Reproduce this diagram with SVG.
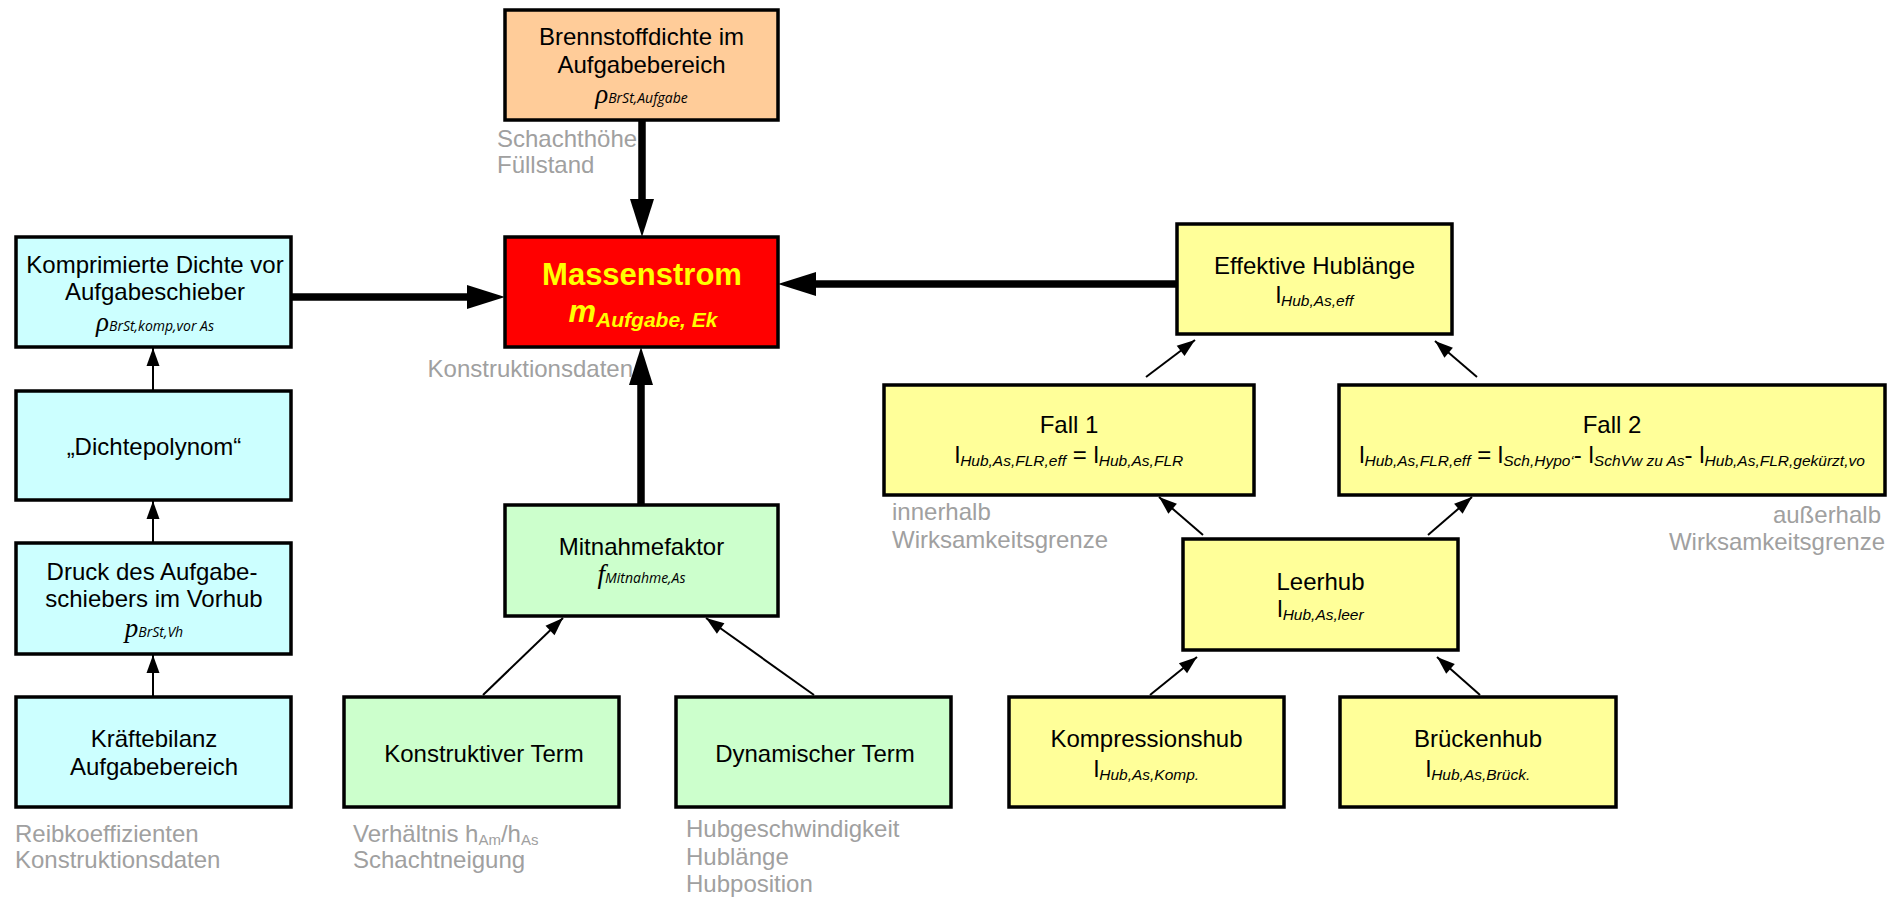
<svg xmlns="http://www.w3.org/2000/svg" width="1902" height="898" viewBox="0 0 1902 898">
<style>
.box{stroke:#000;stroke-width:3.5}
.cy{fill:#ccffff}.or{fill:#ffcc99}.rd{fill:#ff0000}.gr{fill:#ccffcc}.ye{fill:#ffff99}
text{font-family:"Liberation Sans",Arial,sans-serif;font-size:24px;fill:#000}
.c{text-anchor:middle}
.e{text-anchor:end}
.g{fill:#a0a0a0}
.sub{font-style:italic;font-size:15.5px}
.gs{font-size:15px}
.cal{font-family:"Open Sans",sans-serif;font-style:italic;font-size:14px}
.rho{font-family:"Liberation Serif",serif;font-style:italic;font-size:27px}
.thick{stroke:#000;stroke-width:7.5;fill:none;marker-end:url(#big)}
.thin{stroke:#000;stroke-width:2;fill:none;marker-end:url(#small)}
</style>
<defs>
<marker id="big" markerUnits="userSpaceOnUse" markerWidth="38" markerHeight="24" refX="0" refY="12" orient="auto" overflow="visible"><path d="M0,0 L38,12 L0,24 z" fill="#000"/></marker>
<marker id="small" markerUnits="userSpaceOnUse" markerWidth="18" markerHeight="13" refX="18" refY="6.5" orient="auto" overflow="visible"><path d="M0,0 L18,6.5 L0,13 z" fill="#000"/></marker>
</defs>
<rect width="1902" height="898" fill="#fff"/>

<g id="connectors">
<line class="thick" x1="642" y1="121" x2="642" y2="199"/>
<line class="thick" x1="291" y1="297" x2="467" y2="297"/>
<line class="thick" x1="1177" y1="284" x2="816" y2="284"/>
<line class="thick" x1="641" y1="505" x2="641" y2="385"/>
<line class="thin" x1="153" y1="391" x2="153" y2="348"/>
<line class="thin" x1="153" y1="543" x2="153" y2="501"/>
<line class="thin" x1="153" y1="697" x2="153" y2="655"/>
<line class="thin" x1="483" y1="695" x2="563" y2="618"/>
<line class="thin" x1="814" y1="695" x2="706" y2="618"/>
<line class="thin" x1="1146" y1="377" x2="1195" y2="340"/>
<line class="thin" x1="1477" y1="377" x2="1435" y2="341"/>
<line class="thin" x1="1203" y1="535" x2="1159" y2="497"/>
<line class="thin" x1="1428" y1="535" x2="1472" y2="497"/>
<line class="thin" x1="1150" y1="695" x2="1197" y2="657"/>
<line class="thin" x1="1480" y1="695" x2="1437" y2="657"/>
</g>

<g id="brennstoff">
<rect class="box or" x="505" y="10" width="273" height="110"/>
<text class="c" x="641.5" y="45">Brennstoffdichte im</text>
<text class="c" x="641.5" y="73">Aufgabebereich</text>
<text class="c" x="641.5" y="103"><tspan class="rho">ρ</tspan><tspan class="cal">BrSt,Aufgabe</tspan></text>
<text class="g" x="497" y="147">Schachthöhe</text>
<text class="g" x="497" y="173">Füllstand</text>
</g>

<g id="massenstrom">
<rect class="box rd" x="505" y="237" width="273" height="110"/>
<text class="c" x="642" y="285" style="font-weight:bold;font-size:31px;fill:#ffff00">Massenstrom</text>
<text class="c" x="643" y="322" style="font-weight:bold;font-style:italic;fill:#ffff00"><tspan style="font-size:31px">m</tspan><tspan style="font-size:21px" dy="5">Aufgabe, Ek</tspan></text>
<text class="g e" x="633" y="377">Konstruktionsdaten</text>
</g>

<g id="komprimiert">
<rect class="box cy" x="16" y="237" width="275" height="110"/>
<text class="c" x="155" y="273">Komprimierte Dichte vor</text>
<text class="c" x="155" y="300">Aufgabeschieber</text>
<text class="c" x="155" y="331"><tspan class="rho">ρ</tspan><tspan class="cal">BrSt,komp,vor As</tspan></text>
</g>

<g id="dichtepolynom">
<rect class="box cy" x="16" y="391" width="275" height="109"/>
<text class="c" x="154" y="455">„Dichtepolynom“</text>
</g>

<g id="druck">
<rect class="box cy" x="16" y="543" width="275" height="111"/>
<text class="c" x="152" y="580">Druck des Aufgabe-</text>
<text class="c" x="154" y="607">schiebers im Vorhub</text>
<text class="c" x="154" y="637"><tspan class="rho">p</tspan><tspan class="cal">BrSt,Vh</tspan></text>
</g>

<g id="kraeftebilanz">
<rect class="box cy" x="16" y="697" width="275" height="110"/>
<text class="c" x="154" y="747">Kräftebilanz</text>
<text class="c" x="154" y="775">Aufgabebereich</text>
<text class="g" x="15" y="842">Reibkoeffizienten</text>
<text class="g" x="15" y="868">Konstruktionsdaten</text>
</g>

<g id="mitnahmefaktor">
<rect class="box gr" x="505" y="505" width="273" height="111"/>
<text class="c" x="641.5" y="555">Mitnahmefaktor</text>
<text class="c" x="641.5" y="583"><tspan class="rho">f</tspan><tspan class="cal">Mitnahme,As</tspan></text>
</g>

<g id="konstruktiv">
<rect class="box gr" x="344" y="697" width="275" height="110"/>
<text class="c" x="484" y="762">Konstruktiver Term</text>
<text class="g" x="353" y="842">Verhältnis h<tspan class="gs" dy="3">Am</tspan><tspan dy="-3">/h</tspan><tspan class="gs" dy="3">As</tspan></text>
<text class="g" x="353" y="868">Schachtneigung</text>
</g>

<g id="dynamisch">
<rect class="box gr" x="676" y="697" width="275" height="110"/>
<text class="c" x="815" y="762">Dynamischer Term</text>
<text class="g" x="686" y="837">Hubgeschwindigkeit</text>
<text class="g" x="686" y="865">Hublänge</text>
<text class="g" x="686" y="892">Hubposition</text>
</g>

<g id="effektiv">
<rect class="box ye" x="1177" y="224" width="275" height="110"/>
<text class="c" x="1314.5" y="274">Effektive Hublänge</text>
<text class="c" x="1314.5" y="303">l<tspan class="sub" dy="3">Hub,As,eff</tspan></text>
</g>

<g id="fall1">
<rect class="box ye" x="884" y="385" width="370" height="110"/>
<text class="c" x="1069" y="433">Fall 1</text>
<text class="c" x="1069" y="463">l<tspan class="sub" dy="3">Hub,As,FLR,eff</tspan><tspan dy="-3"> = l</tspan><tspan class="sub" dy="3">Hub,As,FLR</tspan></text>
<text class="g" x="892" y="520">innerhalb</text>
<text class="g" x="892" y="548">Wirksamkeitsgrenze</text>
</g>

<g id="fall2">
<rect class="box ye" x="1339" y="385" width="546" height="110"/>
<text class="c" x="1612" y="433">Fall 2</text>
<text class="c" x="1612" y="463">l<tspan class="sub" dy="3">Hub,As,FLR,eff</tspan><tspan dy="-3"> = l</tspan><tspan class="sub" dy="3">Sch,Hypo‘</tspan><tspan dy="-3">- l</tspan><tspan class="sub" dy="3">SchVw zu As</tspan><tspan dy="-3">- l</tspan><tspan class="sub" dy="3">Hub,As,FLR,gekürzt,vo</tspan></text>
<text class="g e" x="1881" y="523">außerhalb</text>
<text class="g e" x="1885" y="550">Wirksamkeitsgrenze</text>
</g>

<g id="leerhub">
<rect class="box ye" x="1183" y="539" width="275" height="111"/>
<text class="c" x="1320.5" y="590">Leerhub</text>
<text class="c" x="1320.5" y="617">l<tspan class="sub" dy="3">Hub,As,leer</tspan></text>
</g>

<g id="kompressionshub">
<rect class="box ye" x="1009" y="697" width="275" height="110"/>
<text class="c" x="1146.5" y="747">Kompressionshub</text>
<text class="c" x="1146.5" y="777">l<tspan class="sub" dy="3">Hub,As,Komp.</tspan></text>
</g>

<g id="brueckenhub">
<rect class="box ye" x="1340" y="697" width="276" height="110"/>
<text class="c" x="1478" y="747">Brückenhub</text>
<text class="c" x="1478" y="777">l<tspan class="sub" dy="3">Hub,As,Brück.</tspan></text>
</g>
</svg>
